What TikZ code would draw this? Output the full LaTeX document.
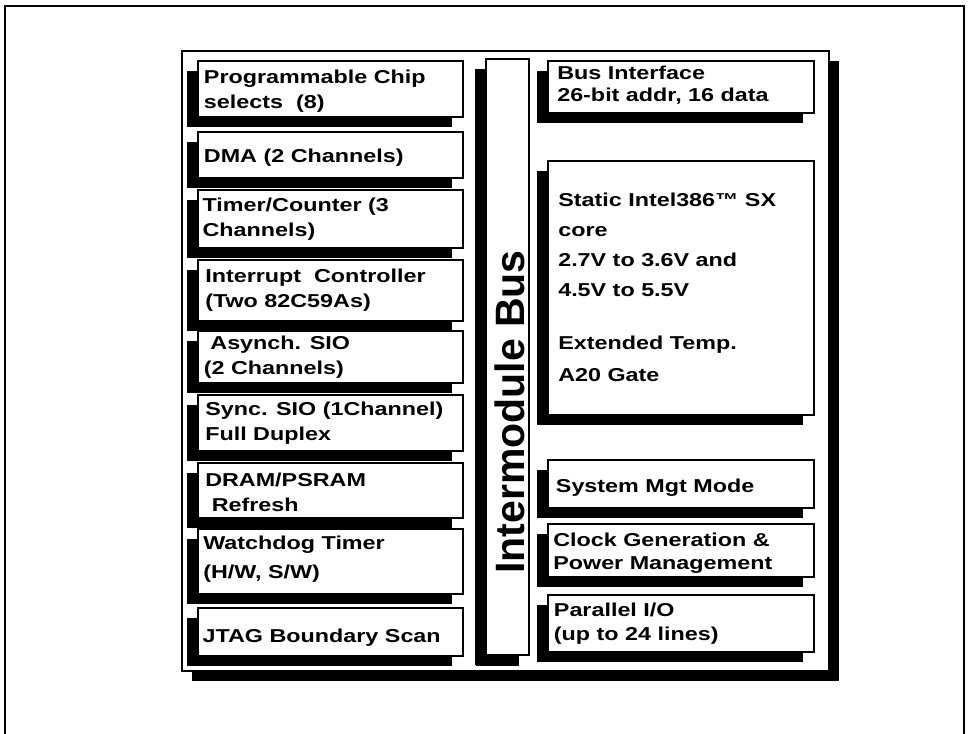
\documentclass[tikz,border=0pt]{standalone}
\usepackage{fontspec}
\setmainfont{Liberation Sans}[FakeStretch=1.25]
\newfontfamily\busfont{Liberation Sans}
\usetikzlibrary{fit, shadows}

\tikzset{
  chipbox/.style = {draw, line width=1.5pt, fill=white, inner sep=0pt,
    drop shadow={shadow xshift=-8pt, shadow yshift=-7.5pt, fill=black, opacity=1}},
  chiptext/.style = {anchor=west, align=left, inner sep=0pt,
    font=\bfseries\fontsize{14}{18.75}\selectfont},
}

\begin{document}
\begin{tikzpicture}[x=0.75pt, y=-0.75pt]
  \clip (0,0) rectangle (969,733);
  \draw[line width=1.5pt] (5,6) rectangle (964,760);
  % chip outline
  \node[draw, line width=1.1pt, fill=white, inner sep=0pt,
    drop shadow={shadow xshift=7.5pt, shadow yshift=-7.5pt, fill=black, opacity=1},
    fit={(182,51) (829,671)}] (chip) {};
  % left column
  \node[chipbox, fit={(198,61) (463,117)}] (pcs) {};
  \node[chipbox, fit={(198,132) (463,178)}] (dma) {};
  \node[chipbox, fit={(198,190) (463,248)}] (tmr) {};
  \node[chipbox, fit={(198,260) (463,321)}] (pic) {};
  \node[chipbox, fit={(198,331) (463,383)}] (asio) {};
  \node[chipbox, fit={(198,395) (463,451)}] (ssio) {};
  \node[chipbox, fit={(198,463) (463,518)}] (dram) {};
  \node[chipbox, fit={(198,529) (463,594)}] (wdt) {};
  \node[chipbox, fit={(198,608) (463,656)}] (jtag) {};
  \node[chiptext] at ([xshift=5pt, yshift=-2pt]pcs.west) {Programmable Chip\\selects\ \ (8)};
  \node[chiptext] at ([xshift=5pt, yshift=-2pt]dma.west) {DMA (2 Channels)};
  \node[chiptext] at ([xshift=4pt]tmr.west) {Timer/Counter (3\\Channels)};
  \node[chiptext] at ([xshift=6pt]pic.west) {Interrupt\ \ Controller\\(Two 82C59As)};
  \node[chiptext] at ([xshift=5pt]asio.west) {\ Asynch. SIO\\(2 Channels)};
  \node[chiptext] at ([xshift=6pt]ssio.west) {Sync. SIO (1Channel)\\Full Duplex};
  \node[chiptext] at ([xshift=6pt, yshift=-1pt]dram.west) {DRAM/PSRAM\\\ Refresh};
  \node[chiptext] at ([xshift=4.5pt, yshift=1.5pt]wdt.west) {Watchdog Timer\\[3pt](H/W, S/W)};
  \node[chiptext] at ([xshift=4pt, yshift=-4.5pt]jtag.west) {JTAG Boundary Scan};
  % intermodule bus
  \node[chipbox, drop shadow={shadow xshift=-7.5pt, shadow yshift=-8pt, fill=black, opacity=1},
    fit={(486,59) (529,655)}] (bus) {};
  \node[rotate=90, inner sep=0pt, font=\busfont\bfseries\fontsize{30.75}{36}\selectfont]
    at (510,412) {Intermodule Bus};
  % right column
  \node[chipbox, fit={(548,61) (814,113)}] (biu) {};
  \node[chipbox, fit={(548,161) (814,415)}] (core) {};
  \node[chipbox, fit={(548,460) (814,508)}] (smm) {};
  \node[chipbox, fit={(548,524) (814,577)}] (clk) {};
  \node[chipbox, fit={(548,595) (814,652)}] (pio) {};
  \node[chiptext, font=\bfseries\fontsize{14}{16.5}\selectfont]
    at ([xshift=7.5pt, yshift=1pt]biu.west) {Bus Interface\\26-bit addr, 16 data};
  \node[chiptext, anchor=north west, font=\bfseries\fontsize{14}{22.5}\selectfont]
    at (558,193) {Static Intel386™ SX\\core\\2.7V to 3.6V and\\4.5V to 5.5V\\[17pt]Extended Temp.\\[1.5pt]A20 Gate};
  \node[chiptext] at ([xshift=6.5pt, yshift=-2.5pt]smm.west) {System Mgt Mode};
  \node[chiptext, font=\bfseries\fontsize{14}{17.25}\selectfont]
    at ([xshift=4.5pt, yshift=-2pt]clk.west) {Clock Generation \&\\Power Management};
  \node[chiptext, font=\bfseries\fontsize{14}{18}\selectfont]
    at ([xshift=5pt]pio.west) {Parallel I/O\\(up to 24 lines)};
\end{tikzpicture}
\end{document}
